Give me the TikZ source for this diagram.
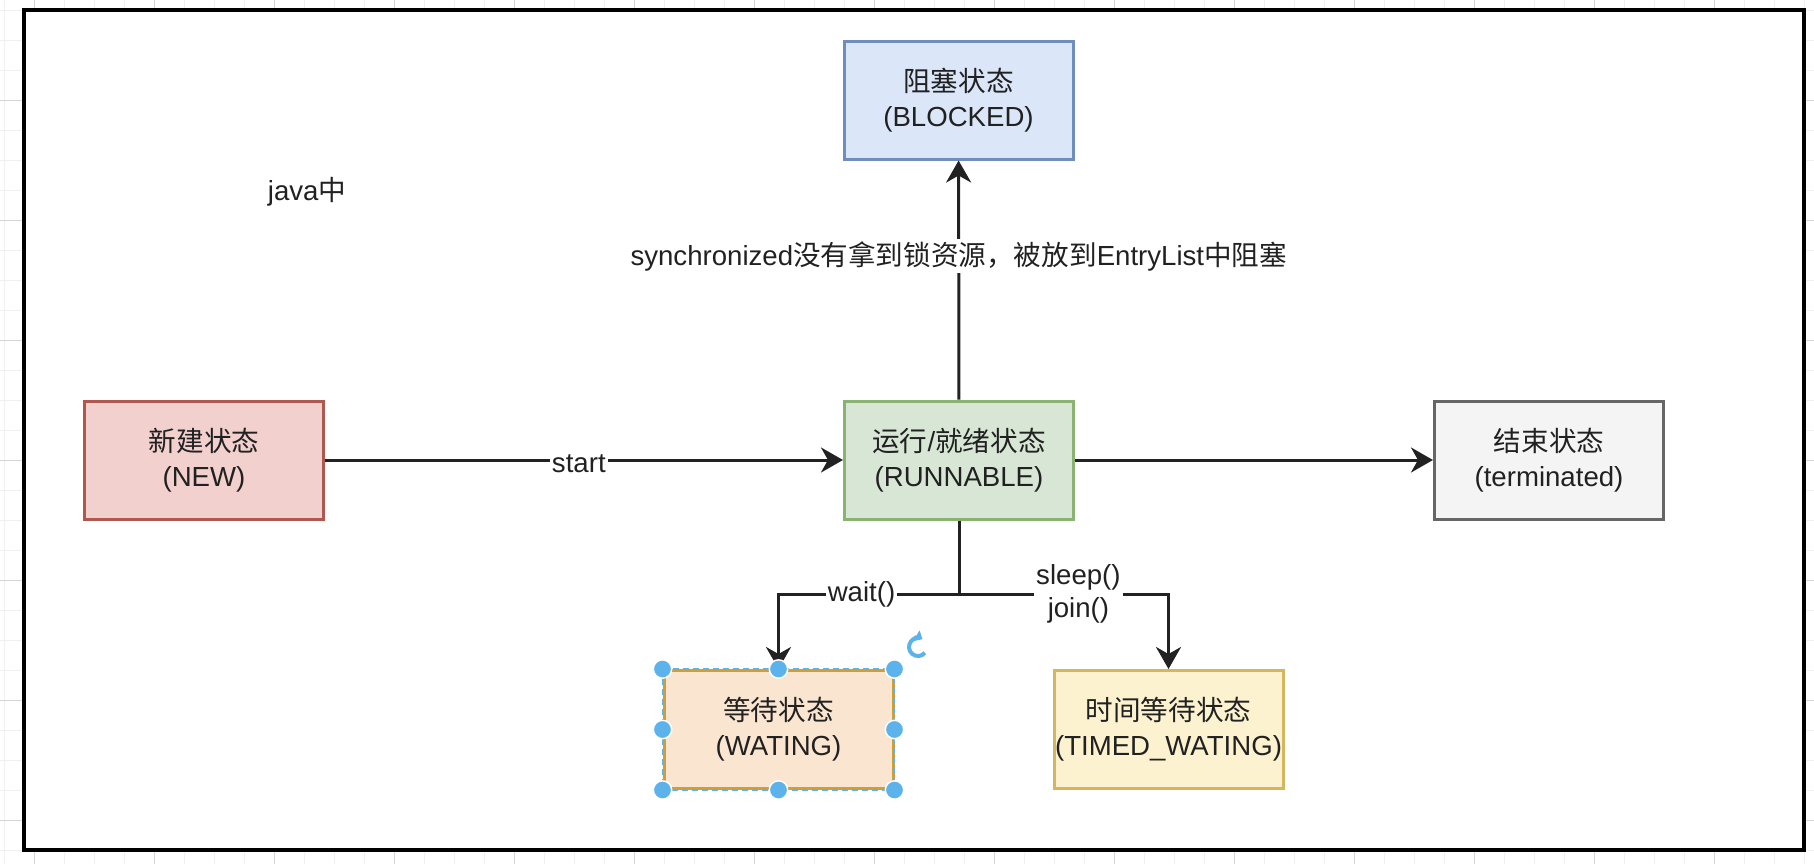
\documentclass[tikz,border=0pt]{standalone}
\usepackage{fontspec}
\setmainfont{Liberation Sans}
\newfontfamily\cjk{Noto Sans CJK SC}
\usetikzlibrary{arrows.meta}
\definecolor{txt}{HTML}{212121}
\definecolor{ln}{HTML}{222222}
\definecolor{gridminor}{HTML}{F0F0F0}
\definecolor{gridmajor}{HTML}{D6D6D6}
\definecolor{newfill}{HTML}{F2D0CE}\definecolor{newline}{HTML}{B0574F}
\definecolor{blkfill}{HTML}{DBE7F9}\definecolor{blkline}{HTML}{6F8EBE}
\definecolor{runfill}{HTML}{D8E7D5}\definecolor{runline}{HTML}{8AB270}
\definecolor{trmfill}{HTML}{F4F4F4}\definecolor{trmline}{HTML}{666666}
\definecolor{wtfill}{HTML}{FAE6D0}\definecolor{wtline}{HTML}{D39D36}
\definecolor{tmfill}{HTML}{FCF2CF}\definecolor{tmline}{HTML}{D4B65F}
\definecolor{sel}{HTML}{5CB3EC}
\tikzset{
  statebox/.style={draw, line width=1.5pt, minimum width=114.5pt, minimum height=59pt,
    align=center, inner sep=0pt, text=txt, font=\fontsize{13.8}{17.5}\selectfont},
  conn/.style={draw=ln, line width=1.5pt, -{Stealth[length=11pt,width=12.5pt,inset=3.5pt]}},
  plain/.style={draw=ln, line width=1.5pt},
  lbl/.style={fill=white, inner sep=1pt, text=txt, align=center, font=\fontsize{13.8}{16.5}\selectfont},
  handle/.style={fill=sel, draw=white, line width=0.75pt}
}
\begin{document}
\begin{tikzpicture}[x=0.5pt,y=-0.5pt]
\useasboundingbox (0,0) rectangle (1814,864);
\fill[white] (0,0) rectangle (1814,864);
% background grid
\foreach \gx in {4,34,...,1814} \draw[gridminor, line width=0.5pt] (\gx,0) -- (\gx,864);
\foreach \gy in {10,40,...,864} \draw[gridminor, line width=0.5pt] (0,\gy) -- (1814,\gy);
\foreach \gx in {34,154,...,1814} \draw[gridmajor, line width=0.5pt] (\gx,0) -- (\gx,864);
\foreach \gy in {100,220,...,864} \draw[gridmajor, line width=0.5pt] (0,\gy) -- (1814,\gy);
% frame
\fill[white] (24,10) rectangle (1804,850);
\draw[black, line width=2pt] (24,10) rectangle (1804,850);

\node[text=txt, font=\fontsize{13.8}{17.5}\selectfont] (java) at (307,192) {java{\cjk 中}};

\node[statebox, fill=newfill, draw=newline, minimum width=119.5pt] (new) at (204,460) {{\cjk 新建状态}\\(NEW)};
\node[statebox, fill=runfill, draw=runline] (run) at (959,460) {{\cjk 运行}/{\cjk 就绪状态}\\(RUNNABLE)};
\node[statebox, fill=blkfill, draw=blkline] (block) at (958.5,100) {{\cjk 阻塞状态}\\(BLOCKED)};
\node[statebox, fill=trmfill, draw=trmline] (term) at (1549,460) {{\cjk 结束状态}\\(terminated)};
\node[statebox, fill=wtfill, draw=wtline] (wait) at (778.5,729.5) {{\cjk 等待状态}\\(WATING)};
\node[statebox, fill=tmfill, draw=tmline] (timed) at (1168.5,729.5) {{\cjk 时间等待状态}\\(TIMED\_WATING)};

\draw[conn] (new) -- node[lbl, pos=0.49, yshift=-2pt] {start} (run);
\draw[conn] (run) -- (term);
\draw[conn] (run) -- node[lbl, pos=0.6] {synchronized{\cjk 没有拿到锁资源，被放到}EntryList{\cjk 中阻塞}} (block);

\coordinate (j) at (959,594);
\draw[plain] (run.south) -- (j);
\draw[conn] (j) -| node[lbl, pos=0.27] {wait()} (wait.north);
\draw[conn] (j) -| node[lbl, pos=0.285] {sleep()\\join()} (timed.north);

% selection overlay on the waiting box
\draw[sel, line width=0.7pt, dash pattern=on 3pt off 2pt] (wait.north west) rectangle (wait.south east);
\foreach \p in {north west,north,north east,west,east,south west,south,south east}
  \filldraw[handle] (wait.\p) circle (4.6pt);
\draw[sel, line width=2pt, -{Triangle[length=3.5pt,width=6pt]}] (918,647) ++(-40:4.5pt) arc[start angle=-40, end angle=-300, radius=4.5pt];
\end{tikzpicture}
\end{document}
